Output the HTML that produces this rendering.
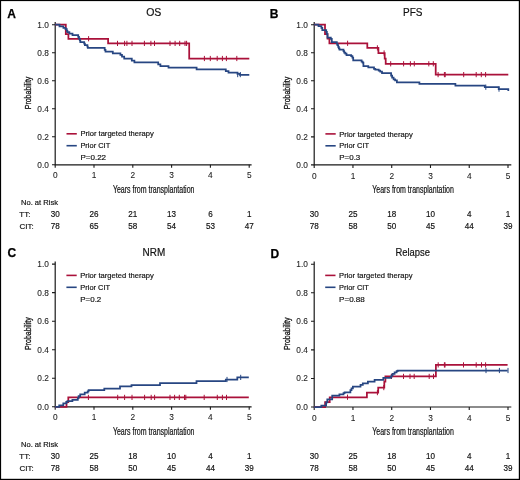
<!DOCTYPE html><html><head><meta charset="utf-8"><style>html,body{margin:0;padding:0;background:#fff;width:520px;height:480px;overflow:hidden}svg{display:block}text{font-family:"Liberation Sans",sans-serif}</style></head><body>
<svg width="520" height="480" viewBox="0 0 520 480">
<rect x="0" y="0" width="520" height="480" fill="#fff"/>
<path d="M55.2,22.1V164.8H251.6" fill="none" stroke="#1a1a1a" stroke-width="1.2"/>
<path d="M52.0,164.8H55.2M52.0,136.78H55.2M52.0,108.76H55.2M52.0,80.74H55.2M52.0,52.72H55.2M52.0,24.7H55.2M55.2,164.8V167.8M94.0,164.8V167.8M132.8,164.8V167.8M171.6,164.8V167.8M210.4,164.8V167.8M249.2,164.8V167.8" fill="none" stroke="#1a1a1a" stroke-width="1.1"/>
<path d="M66.5,133.8H76.8" stroke="#AA113A" stroke-width="1.6"/>
<path d="M66.5,145.70000000000002H76.8" stroke="#274682" stroke-width="1.6"/>
<path d="M55.2,24.7H65.8V34.2H68.4V38.75H108.1V43.4H189.2V58.5H249.3" fill="none" stroke="#AA113A" stroke-width="1.75" stroke-linejoin="miter" stroke-linecap="butt"/>
<path d="M88.6,36.15V41.35" fill="none" stroke="#AA113A" stroke-width="1.0"/>
<path d="M117.5,40.8V46.0M124.6,40.8V46.0M126.9,40.8V46.0M132,40.8V46.0M144.4,40.8V46.0M150.9,40.8V46.0M154.5,40.8V46.0M170,40.8V46.0M175.1,40.8V46.0M179.7,40.8V46.0M185,40.8V46.0M186.6,40.8V46.0" fill="none" stroke="#AA113A" stroke-width="1.0"/>
<path d="M204.4,55.9V61.1M210.3,55.9V61.1M217.2,55.9V61.1M222.4,55.9V61.1M226.4,55.9V61.1M236.8,55.9V61.1" fill="none" stroke="#AA113A" stroke-width="1.0"/>
<path d="M55.2,24.7H59.5V26.3H63.4V27.8H65.5V29.0H66.8V30.8H67.4V32.1H69.4V33.6H72.5V35.2H78.2V36.8H79.0V38.6H79.8V40.4H80.3V42.1H84.2V43.6H84.9V45.0H87.4V46.5H87.8V47.9H104.7V49.9H105.5V51.6H112.8V53.3H120.4V54.9H122.0V56.6H124.2V58.5H131.8V60.5H134.4V62.4H158.2V64.3H160.4V66.0H168.5V67.6H196.6V69.3H225.8V71.0H228.5V72.5H237.5V73.8H239.8V74.9H249.3" fill="none" stroke="#274682" stroke-width="1.75" stroke-linejoin="miter" stroke-linecap="butt"/>
<path d="M237.7,72.0V77.19999999999999M240.3,72.0V77.19999999999999" fill="none" stroke="#274682" stroke-width="1.0"/>
<path d="M314.2,22.0V164.9H511.3" fill="none" stroke="#1a1a1a" stroke-width="1.2"/>
<path d="M311.0,164.9H314.2M311.0,136.86H314.2M311.0,108.82H314.2M311.0,80.78H314.2M311.0,52.74H314.2M311.0,24.7H314.2M314.2,164.9V167.9M352.96,164.9V167.9M391.72,164.9V167.9M430.48,164.9V167.9M469.24,164.9V167.9M508.0,164.9V167.9" fill="none" stroke="#1a1a1a" stroke-width="1.1"/>
<path d="M325.4,133.9H335.7" stroke="#AA113A" stroke-width="1.6"/>
<path d="M325.4,145.8H335.7" stroke="#274682" stroke-width="1.6"/>
<path d="M314.2,24.7H325.0V34.0H327.5V38.7H329.4V43.3H367.3V47.9H378.4V53.0H384.7V58.6H385.7V63.9H435.7V74.6H508.3" fill="none" stroke="#AA113A" stroke-width="1.75" stroke-linejoin="miter" stroke-linecap="butt"/>
<path d="M347.6,40.699999999999996V45.9" fill="none" stroke="#AA113A" stroke-width="1.0"/>
<path d="M377.4,45.3V50.5" fill="none" stroke="#AA113A" stroke-width="1.0"/>
<path d="M384.1,50.4V55.6" fill="none" stroke="#AA113A" stroke-width="1.0"/>
<path d="M390.7,61.199999999999996V66.39999999999999M403.6,61.199999999999996V66.39999999999999M410.4,61.199999999999996V66.39999999999999M414.3,61.199999999999996V66.39999999999999M428.8,61.199999999999996V66.39999999999999M433.3,61.199999999999996V66.39999999999999" fill="none" stroke="#AA113A" stroke-width="1.0"/>
<path d="M438.1,72.0V77.19999999999999M444.4,72.0V77.19999999999999M445.2,72.0V77.19999999999999M463.7,72.0V77.19999999999999M476.2,72.0V77.19999999999999M481.3,72.0V77.19999999999999M485.6,72.0V77.19999999999999" fill="none" stroke="#AA113A" stroke-width="1.0"/>
<path d="M314.2,24.7H318.5V26.2H321.4V27.9H322.3V30.1H326.2V31.8H326.9V34.0H327.5V37.6H330.8V38.8H331.8V42.2H336.8V43.6H337.4V45.1H338.2V46.8H338.8V48.3H339.5V49.5H343.5V51.0H344.2V52.7H345.3V53.7H346.5V55.0H351.2V56.2H352.4V57.5H353.2V60.4H361.6V61.6H362.6V62.6H363.4V66.2H368.3V67.4H374.0V68.8H375.3V69.5H378.7V70.7H380.2V71.7H382.0V73.0H391.1V75.6H392.1V77.5H393.6V79.4H395.1V80.4H396.9V82.3H419.4V83.9H455.4V85.5H484.8V87.2H498.7V89.1H508.3V90.9H508.3" fill="none" stroke="#274682" stroke-width="1.75" stroke-linejoin="miter" stroke-linecap="butt"/>
<path d="M485.8,84.60000000000001V89.8" fill="none" stroke="#274682" stroke-width="1.0"/>
<path d="M499.0,86.5V91.69999999999999" fill="none" stroke="#274682" stroke-width="1.0"/>
<path d="M55.2,261.4V406.8H251.6" fill="none" stroke="#1a1a1a" stroke-width="1.2"/>
<path d="M52.0,406.8H55.2M52.0,378.26H55.2M52.0,349.72H55.2M52.0,321.18H55.2M52.0,292.64H55.2M52.0,264.1H55.2M55.2,406.8V409.8M94.0,406.8V409.8M132.8,406.8V409.8M171.6,406.8V409.8M210.4,406.8V409.8M249.2,406.8V409.8" fill="none" stroke="#1a1a1a" stroke-width="1.1"/>
<path d="M66.4,275.4H76.7" stroke="#AA113A" stroke-width="1.6"/>
<path d="M66.4,287.29999999999995H76.7" stroke="#274682" stroke-width="1.6"/>
<path d="M55.2,406.8H66.5V402.0H68.3V397.4H248.8" fill="none" stroke="#AA113A" stroke-width="1.75" stroke-linejoin="miter" stroke-linecap="butt"/>
<path d="M88.4,394.79999999999995V400.0M117.7,394.79999999999995V400.0M124.6,394.79999999999995V400.0M132,394.79999999999995V400.0M144.6,394.79999999999995V400.0M151.2,394.79999999999995V400.0M154.6,394.79999999999995V400.0M170,394.79999999999995V400.0M174.6,394.79999999999995V400.0M179.3,394.79999999999995V400.0M184.5,394.79999999999995V400.0M185.8,394.79999999999995V400.0M204.2,394.79999999999995V400.0M217.3,394.79999999999995V400.0M222.4,394.79999999999995V400.0M226.5,394.79999999999995V400.0" fill="none" stroke="#AA113A" stroke-width="1.0"/>
<path d="M55.2,406.8H59.2V405.3H63.3V403.4H66.4V401.9H67.4V401.1H72.4V399.8H77.8V398.0H78.6V396.2H80.2V394.4H84.7V392.6H87.7V391.4H88.6V390.2H104.3V388.5H120V386.3H131.5V385.0H160V383.1H196.5V381.1H225.8V379.5H237.3V377.4H248.8" fill="none" stroke="#274682" stroke-width="1.75" stroke-linejoin="miter" stroke-linecap="butt"/>
<path d="M227.0,376.9V382.1" fill="none" stroke="#274682" stroke-width="1.0"/>
<path d="M240.7,374.79999999999995V380.0" fill="none" stroke="#274682" stroke-width="1.0"/>
<path d="M314.2,261.5V407.0H511.3" fill="none" stroke="#1a1a1a" stroke-width="1.2"/>
<path d="M311.0,407.0H314.2M311.0,378.44H314.2M311.0,349.88H314.2M311.0,321.32H314.2M311.0,292.76H314.2M311.0,264.2H314.2M314.2,407.0V410.0M352.96,407.0V410.0M391.72,407.0V410.0M430.48,407.0V410.0M469.24,407.0V410.0M508.0,407.0V410.0" fill="none" stroke="#1a1a1a" stroke-width="1.1"/>
<path d="M325.2,275.4H335.5" stroke="#AA113A" stroke-width="1.6"/>
<path d="M325.2,287.29999999999995H335.5" stroke="#274682" stroke-width="1.6"/>
<path d="M314.2,407.0H325.1V402.1H329.7V397.3H366.9V392.6H378.2V387.6H384.3V381.5H385.4V376.4H435.9V364.9H507.6" fill="none" stroke="#AA113A" stroke-width="1.75" stroke-linejoin="miter" stroke-linecap="butt"/>
<path d="M347.5,394.59999999999997V399.8" fill="none" stroke="#AA113A" stroke-width="1.0"/>
<path d="M377.4,390.0V395.20000000000005" fill="none" stroke="#AA113A" stroke-width="1.0"/>
<path d="M383.8,385.0V390.20000000000005" fill="none" stroke="#AA113A" stroke-width="1.0"/>
<path d="M391.5,373.79999999999995V379.0M403.5,373.79999999999995V379.0M410,373.79999999999995V379.0M414.2,373.79999999999995V379.0M429.2,373.79999999999995V379.0M433.5,373.79999999999995V379.0" fill="none" stroke="#AA113A" stroke-width="1.0"/>
<path d="M438.2,362.29999999999995V367.5M444.4,362.29999999999995V367.5M445,362.29999999999995V367.5M463.5,362.29999999999995V367.5M476.2,362.29999999999995V367.5M481.5,362.29999999999995V367.5M485.6,362.29999999999995V367.5" fill="none" stroke="#AA113A" stroke-width="1.0"/>
<path d="M314.2,407.0H321.3V405.5H326.1V402.3H327.3V399.3H332.2V395.7H339.4V394.3H343.5V393.1H344.6V392.3H350.4V390.2H351.5V388.4H352.9V386.7H360.5V384.9H362.8V383.3H367.9V381.6H374.6V379.8H383.3V377.8H390.8V376.8H391.5V375.3H392.6V373.8H394.6V372.4H396.6V371.2H397.7V370.5H507.6" fill="none" stroke="#274682" stroke-width="1.75" stroke-linejoin="miter" stroke-linecap="butt"/>
<path d="M486.0,367.9V373.1M499.4,367.9V373.1M508.0,367.9V373.1" fill="none" stroke="#274682" stroke-width="1.0"/>
<defs><filter id="gs" x="-5%" y="-5%" width="110%" height="110%" color-interpolation-filters="sRGB"><feColorMatrix type="saturate" values="0"/></filter></defs>
<g filter="url(#gs)" stroke="#111" stroke-width="0.18">
<text x="7.2" y="17.9" font-size="12" font-weight="bold" fill="#000" stroke="#000" stroke-width="0.25">A</text>
<text x="153.8" y="16.1" font-size="10" text-anchor="middle" textLength="15.2" lengthAdjust="spacingAndGlyphs" fill="#111">OS</text>
<text x="48.9" y="167.8" font-size="8.3" text-anchor="end" fill="#222" stroke-width="0.08">0.0</text>
<text x="48.9" y="139.78" font-size="8.3" text-anchor="end" fill="#222" stroke-width="0.08">0.2</text>
<text x="48.9" y="111.76" font-size="8.3" text-anchor="end" fill="#222" stroke-width="0.08">0.4</text>
<text x="48.9" y="83.74" font-size="8.3" text-anchor="end" fill="#222" stroke-width="0.08">0.6</text>
<text x="48.9" y="55.72" font-size="8.3" text-anchor="end" fill="#222" stroke-width="0.08">0.8</text>
<text x="48.9" y="27.7" font-size="8.3" text-anchor="end" fill="#222" stroke-width="0.08">1.0</text>
<text x="55.2" y="178.4" font-size="8.3" text-anchor="middle" fill="#222" stroke-width="0.08">0</text>
<text x="94.0" y="178.4" font-size="8.3" text-anchor="middle" fill="#222" stroke-width="0.08">1</text>
<text x="132.8" y="178.4" font-size="8.3" text-anchor="middle" fill="#222" stroke-width="0.08">2</text>
<text x="171.6" y="178.4" font-size="8.3" text-anchor="middle" fill="#222" stroke-width="0.08">3</text>
<text x="210.4" y="178.4" font-size="8.3" text-anchor="middle" fill="#222" stroke-width="0.08">4</text>
<text x="249.2" y="178.4" font-size="8.3" text-anchor="middle" fill="#222" stroke-width="0.08">5</text>
<text transform="translate(30.6,92.95) rotate(-90)" font-size="9.6" text-anchor="middle" textLength="32.6" lengthAdjust="spacingAndGlyphs" fill="#111" stroke="#111" stroke-width="0.3">Probability</text>
<text x="153.7" y="193.1" font-size="10" text-anchor="middle" textLength="81.5" lengthAdjust="spacingAndGlyphs" fill="#111" stroke="#111" stroke-width="0.2">Years from transplantation</text>
<text x="80.4" y="136.4" font-size="8" textLength="73.4" lengthAdjust="spacingAndGlyphs" fill="#111">Prior targeted therapy</text>
<text x="80.4" y="148.15" font-size="8" textLength="29.8" lengthAdjust="spacingAndGlyphs" fill="#111">Prior CIT</text>
<text x="80.4" y="160.1" font-size="8" textLength="25.7" lengthAdjust="spacingAndGlyphs" fill="#111">P=0.22</text>
<text x="21.0" y="204.9" font-size="7.9" textLength="37.0" lengthAdjust="spacingAndGlyphs" fill="#111">No. at Risk</text>
<text x="19.3" y="216.9" font-size="8" fill="#111">TT:</text>
<text x="19.5" y="228.8" font-size="8" fill="#111">CIT:</text>
<text x="55.2" y="216.9" font-size="8.8" text-anchor="middle" textLength="9.01" lengthAdjust="spacingAndGlyphs" fill="#111">30</text>
<text x="55.2" y="228.8" font-size="8.8" text-anchor="middle" textLength="9.01" lengthAdjust="spacingAndGlyphs" fill="#111">78</text>
<text x="94.0" y="216.9" font-size="8.8" text-anchor="middle" textLength="9.01" lengthAdjust="spacingAndGlyphs" fill="#111">26</text>
<text x="94.0" y="228.8" font-size="8.8" text-anchor="middle" textLength="9.01" lengthAdjust="spacingAndGlyphs" fill="#111">65</text>
<text x="132.8" y="216.9" font-size="8.8" text-anchor="middle" textLength="9.01" lengthAdjust="spacingAndGlyphs" fill="#111">21</text>
<text x="132.8" y="228.8" font-size="8.8" text-anchor="middle" textLength="9.01" lengthAdjust="spacingAndGlyphs" fill="#111">58</text>
<text x="171.6" y="216.9" font-size="8.8" text-anchor="middle" textLength="9.01" lengthAdjust="spacingAndGlyphs" fill="#111">13</text>
<text x="171.6" y="228.8" font-size="8.8" text-anchor="middle" textLength="9.01" lengthAdjust="spacingAndGlyphs" fill="#111">54</text>
<text x="210.4" y="216.9" font-size="8.8" text-anchor="middle" textLength="4.5" lengthAdjust="spacingAndGlyphs" fill="#111">6</text>
<text x="210.4" y="228.8" font-size="8.8" text-anchor="middle" textLength="9.01" lengthAdjust="spacingAndGlyphs" fill="#111">53</text>
<text x="249.2" y="216.9" font-size="8.8" text-anchor="middle" textLength="4.5" lengthAdjust="spacingAndGlyphs" fill="#111">1</text>
<text x="249.2" y="228.8" font-size="8.8" text-anchor="middle" textLength="9.01" lengthAdjust="spacingAndGlyphs" fill="#111">47</text>
<text x="269.8" y="17.9" font-size="12" font-weight="bold" fill="#000" stroke="#000" stroke-width="0.25">B</text>
<text x="412.75" y="16.1" font-size="10" text-anchor="middle" textLength="19.4" lengthAdjust="spacingAndGlyphs" fill="#111">PFS</text>
<text x="307.9" y="167.9" font-size="8.3" text-anchor="end" fill="#222" stroke-width="0.08">0.0</text>
<text x="307.9" y="139.86" font-size="8.3" text-anchor="end" fill="#222" stroke-width="0.08">0.2</text>
<text x="307.9" y="111.82" font-size="8.3" text-anchor="end" fill="#222" stroke-width="0.08">0.4</text>
<text x="307.9" y="83.78" font-size="8.3" text-anchor="end" fill="#222" stroke-width="0.08">0.6</text>
<text x="307.9" y="55.74" font-size="8.3" text-anchor="end" fill="#222" stroke-width="0.08">0.8</text>
<text x="307.9" y="27.7" font-size="8.3" text-anchor="end" fill="#222" stroke-width="0.08">1.0</text>
<text x="314.2" y="178.5" font-size="8.3" text-anchor="middle" fill="#222" stroke-width="0.08">0</text>
<text x="352.96" y="178.5" font-size="8.3" text-anchor="middle" fill="#222" stroke-width="0.08">1</text>
<text x="391.72" y="178.5" font-size="8.3" text-anchor="middle" fill="#222" stroke-width="0.08">2</text>
<text x="430.48" y="178.5" font-size="8.3" text-anchor="middle" fill="#222" stroke-width="0.08">3</text>
<text x="469.24" y="178.5" font-size="8.3" text-anchor="middle" fill="#222" stroke-width="0.08">4</text>
<text x="508.0" y="178.5" font-size="8.3" text-anchor="middle" fill="#222" stroke-width="0.08">5</text>
<text transform="translate(289.6,93.0) rotate(-90)" font-size="9.6" text-anchor="middle" textLength="32.6" lengthAdjust="spacingAndGlyphs" fill="#111" stroke="#111" stroke-width="0.3">Probability</text>
<text x="413.05" y="193.2" font-size="10" text-anchor="middle" textLength="81.5" lengthAdjust="spacingAndGlyphs" fill="#111" stroke="#111" stroke-width="0.2">Years from transplantation</text>
<text x="339.29999999999995" y="136.5" font-size="8" textLength="73.4" lengthAdjust="spacingAndGlyphs" fill="#111">Prior targeted therapy</text>
<text x="339.29999999999995" y="148.25" font-size="8" textLength="29.8" lengthAdjust="spacingAndGlyphs" fill="#111">Prior CIT</text>
<text x="339.29999999999995" y="160.2" font-size="8" textLength="21.0" lengthAdjust="spacingAndGlyphs" fill="#111">P=0.3</text>
<text x="314.2" y="216.9" font-size="8.8" text-anchor="middle" textLength="9.01" lengthAdjust="spacingAndGlyphs" fill="#111">30</text>
<text x="314.2" y="228.8" font-size="8.8" text-anchor="middle" textLength="9.01" lengthAdjust="spacingAndGlyphs" fill="#111">78</text>
<text x="352.96" y="216.9" font-size="8.8" text-anchor="middle" textLength="9.01" lengthAdjust="spacingAndGlyphs" fill="#111">25</text>
<text x="352.96" y="228.8" font-size="8.8" text-anchor="middle" textLength="9.01" lengthAdjust="spacingAndGlyphs" fill="#111">58</text>
<text x="391.72" y="216.9" font-size="8.8" text-anchor="middle" textLength="9.01" lengthAdjust="spacingAndGlyphs" fill="#111">18</text>
<text x="391.72" y="228.8" font-size="8.8" text-anchor="middle" textLength="9.01" lengthAdjust="spacingAndGlyphs" fill="#111">50</text>
<text x="430.48" y="216.9" font-size="8.8" text-anchor="middle" textLength="9.01" lengthAdjust="spacingAndGlyphs" fill="#111">10</text>
<text x="430.48" y="228.8" font-size="8.8" text-anchor="middle" textLength="9.01" lengthAdjust="spacingAndGlyphs" fill="#111">45</text>
<text x="469.24" y="216.9" font-size="8.8" text-anchor="middle" textLength="4.5" lengthAdjust="spacingAndGlyphs" fill="#111">4</text>
<text x="469.24" y="228.8" font-size="8.8" text-anchor="middle" textLength="9.01" lengthAdjust="spacingAndGlyphs" fill="#111">44</text>
<text x="508.0" y="216.9" font-size="8.8" text-anchor="middle" textLength="4.5" lengthAdjust="spacingAndGlyphs" fill="#111">1</text>
<text x="508.0" y="228.8" font-size="8.8" text-anchor="middle" textLength="9.01" lengthAdjust="spacingAndGlyphs" fill="#111">39</text>
<text x="7.4" y="257.1" font-size="12" font-weight="bold" fill="#000" stroke="#000" stroke-width="0.25">C</text>
<text x="153.9" y="255.5" font-size="10" text-anchor="middle" textLength="22.6" lengthAdjust="spacingAndGlyphs" fill="#111">NRM</text>
<text x="48.9" y="409.8" font-size="8.3" text-anchor="end" fill="#222" stroke-width="0.08">0.0</text>
<text x="48.9" y="381.26" font-size="8.3" text-anchor="end" fill="#222" stroke-width="0.08">0.2</text>
<text x="48.9" y="352.72" font-size="8.3" text-anchor="end" fill="#222" stroke-width="0.08">0.4</text>
<text x="48.9" y="324.18" font-size="8.3" text-anchor="end" fill="#222" stroke-width="0.08">0.6</text>
<text x="48.9" y="295.64" font-size="8.3" text-anchor="end" fill="#222" stroke-width="0.08">0.8</text>
<text x="48.9" y="267.1" font-size="8.3" text-anchor="end" fill="#222" stroke-width="0.08">1.0</text>
<text x="55.2" y="420.4" font-size="8.3" text-anchor="middle" fill="#222" stroke-width="0.08">0</text>
<text x="94.0" y="420.4" font-size="8.3" text-anchor="middle" fill="#222" stroke-width="0.08">1</text>
<text x="132.8" y="420.4" font-size="8.3" text-anchor="middle" fill="#222" stroke-width="0.08">2</text>
<text x="171.6" y="420.4" font-size="8.3" text-anchor="middle" fill="#222" stroke-width="0.08">3</text>
<text x="210.4" y="420.4" font-size="8.3" text-anchor="middle" fill="#222" stroke-width="0.08">4</text>
<text x="249.2" y="420.4" font-size="8.3" text-anchor="middle" fill="#222" stroke-width="0.08">5</text>
<text transform="translate(30.6,333.65) rotate(-90)" font-size="9.6" text-anchor="middle" textLength="32.6" lengthAdjust="spacingAndGlyphs" fill="#111" stroke="#111" stroke-width="0.3">Probability</text>
<text x="153.7" y="435.1" font-size="10" text-anchor="middle" textLength="81.5" lengthAdjust="spacingAndGlyphs" fill="#111" stroke="#111" stroke-width="0.2">Years from transplantation</text>
<text x="80.30000000000001" y="278.0" font-size="8" textLength="73.4" lengthAdjust="spacingAndGlyphs" fill="#111">Prior targeted therapy</text>
<text x="80.30000000000001" y="289.75" font-size="8" textLength="29.8" lengthAdjust="spacingAndGlyphs" fill="#111">Prior CIT</text>
<text x="80.30000000000001" y="301.7" font-size="8" textLength="21.0" lengthAdjust="spacingAndGlyphs" fill="#111">P=0.2</text>
<text x="21.0" y="447.0" font-size="7.9" textLength="37.0" lengthAdjust="spacingAndGlyphs" fill="#111">No. at Risk</text>
<text x="19.3" y="459.0" font-size="8" fill="#111">TT:</text>
<text x="19.5" y="470.9" font-size="8" fill="#111">CIT:</text>
<text x="55.2" y="459.0" font-size="8.8" text-anchor="middle" textLength="9.01" lengthAdjust="spacingAndGlyphs" fill="#111">30</text>
<text x="55.2" y="470.9" font-size="8.8" text-anchor="middle" textLength="9.01" lengthAdjust="spacingAndGlyphs" fill="#111">78</text>
<text x="94.0" y="459.0" font-size="8.8" text-anchor="middle" textLength="9.01" lengthAdjust="spacingAndGlyphs" fill="#111">25</text>
<text x="94.0" y="470.9" font-size="8.8" text-anchor="middle" textLength="9.01" lengthAdjust="spacingAndGlyphs" fill="#111">58</text>
<text x="132.8" y="459.0" font-size="8.8" text-anchor="middle" textLength="9.01" lengthAdjust="spacingAndGlyphs" fill="#111">18</text>
<text x="132.8" y="470.9" font-size="8.8" text-anchor="middle" textLength="9.01" lengthAdjust="spacingAndGlyphs" fill="#111">50</text>
<text x="171.6" y="459.0" font-size="8.8" text-anchor="middle" textLength="9.01" lengthAdjust="spacingAndGlyphs" fill="#111">10</text>
<text x="171.6" y="470.9" font-size="8.8" text-anchor="middle" textLength="9.01" lengthAdjust="spacingAndGlyphs" fill="#111">45</text>
<text x="210.4" y="459.0" font-size="8.8" text-anchor="middle" textLength="4.5" lengthAdjust="spacingAndGlyphs" fill="#111">4</text>
<text x="210.4" y="470.9" font-size="8.8" text-anchor="middle" textLength="9.01" lengthAdjust="spacingAndGlyphs" fill="#111">44</text>
<text x="249.2" y="459.0" font-size="8.8" text-anchor="middle" textLength="4.5" lengthAdjust="spacingAndGlyphs" fill="#111">1</text>
<text x="249.2" y="470.9" font-size="8.8" text-anchor="middle" textLength="9.01" lengthAdjust="spacingAndGlyphs" fill="#111">39</text>
<text x="270.4" y="257.5" font-size="12" font-weight="bold" fill="#000" stroke="#000" stroke-width="0.25">D</text>
<text x="412.7" y="255.5" font-size="10" text-anchor="middle" textLength="34.6" lengthAdjust="spacingAndGlyphs" fill="#111">Relapse</text>
<text x="307.9" y="410.0" font-size="8.3" text-anchor="end" fill="#222" stroke-width="0.08">0.0</text>
<text x="307.9" y="381.44" font-size="8.3" text-anchor="end" fill="#222" stroke-width="0.08">0.2</text>
<text x="307.9" y="352.88" font-size="8.3" text-anchor="end" fill="#222" stroke-width="0.08">0.4</text>
<text x="307.9" y="324.32" font-size="8.3" text-anchor="end" fill="#222" stroke-width="0.08">0.6</text>
<text x="307.9" y="295.76" font-size="8.3" text-anchor="end" fill="#222" stroke-width="0.08">0.8</text>
<text x="307.9" y="267.2" font-size="8.3" text-anchor="end" fill="#222" stroke-width="0.08">1.0</text>
<text x="314.2" y="420.6" font-size="8.3" text-anchor="middle" fill="#222" stroke-width="0.08">0</text>
<text x="352.96" y="420.6" font-size="8.3" text-anchor="middle" fill="#222" stroke-width="0.08">1</text>
<text x="391.72" y="420.6" font-size="8.3" text-anchor="middle" fill="#222" stroke-width="0.08">2</text>
<text x="430.48" y="420.6" font-size="8.3" text-anchor="middle" fill="#222" stroke-width="0.08">3</text>
<text x="469.24" y="420.6" font-size="8.3" text-anchor="middle" fill="#222" stroke-width="0.08">4</text>
<text x="508.0" y="420.6" font-size="8.3" text-anchor="middle" fill="#222" stroke-width="0.08">5</text>
<text transform="translate(289.6,333.8) rotate(-90)" font-size="9.6" text-anchor="middle" textLength="32.6" lengthAdjust="spacingAndGlyphs" fill="#111" stroke="#111" stroke-width="0.3">Probability</text>
<text x="413.05" y="435.3" font-size="10" text-anchor="middle" textLength="81.5" lengthAdjust="spacingAndGlyphs" fill="#111" stroke="#111" stroke-width="0.2">Years from transplantation</text>
<text x="339.09999999999997" y="278.0" font-size="8" textLength="73.4" lengthAdjust="spacingAndGlyphs" fill="#111">Prior targeted therapy</text>
<text x="339.09999999999997" y="289.75" font-size="8" textLength="29.8" lengthAdjust="spacingAndGlyphs" fill="#111">Prior CIT</text>
<text x="339.09999999999997" y="301.7" font-size="8" textLength="25.7" lengthAdjust="spacingAndGlyphs" fill="#111">P=0.88</text>
<text x="314.2" y="459.0" font-size="8.8" text-anchor="middle" textLength="9.01" lengthAdjust="spacingAndGlyphs" fill="#111">30</text>
<text x="314.2" y="470.9" font-size="8.8" text-anchor="middle" textLength="9.01" lengthAdjust="spacingAndGlyphs" fill="#111">78</text>
<text x="352.96" y="459.0" font-size="8.8" text-anchor="middle" textLength="9.01" lengthAdjust="spacingAndGlyphs" fill="#111">25</text>
<text x="352.96" y="470.9" font-size="8.8" text-anchor="middle" textLength="9.01" lengthAdjust="spacingAndGlyphs" fill="#111">58</text>
<text x="391.72" y="459.0" font-size="8.8" text-anchor="middle" textLength="9.01" lengthAdjust="spacingAndGlyphs" fill="#111">18</text>
<text x="391.72" y="470.9" font-size="8.8" text-anchor="middle" textLength="9.01" lengthAdjust="spacingAndGlyphs" fill="#111">50</text>
<text x="430.48" y="459.0" font-size="8.8" text-anchor="middle" textLength="9.01" lengthAdjust="spacingAndGlyphs" fill="#111">10</text>
<text x="430.48" y="470.9" font-size="8.8" text-anchor="middle" textLength="9.01" lengthAdjust="spacingAndGlyphs" fill="#111">45</text>
<text x="469.24" y="459.0" font-size="8.8" text-anchor="middle" textLength="4.5" lengthAdjust="spacingAndGlyphs" fill="#111">4</text>
<text x="469.24" y="470.9" font-size="8.8" text-anchor="middle" textLength="9.01" lengthAdjust="spacingAndGlyphs" fill="#111">44</text>
<text x="508.0" y="459.0" font-size="8.8" text-anchor="middle" textLength="4.5" lengthAdjust="spacingAndGlyphs" fill="#111">1</text>
<text x="508.0" y="470.9" font-size="8.8" text-anchor="middle" textLength="9.01" lengthAdjust="spacingAndGlyphs" fill="#111">39</text>
</g>
<rect x="0" y="0" width="520" height="1.1" fill="#000"/>
<rect x="0" y="0" width="1.1" height="480" fill="#000"/>
<rect x="518.8" y="0" width="1.2" height="480" fill="#000"/>
<rect x="0" y="478.8" width="520" height="1.2" fill="#000"/>
</svg></body></html>
